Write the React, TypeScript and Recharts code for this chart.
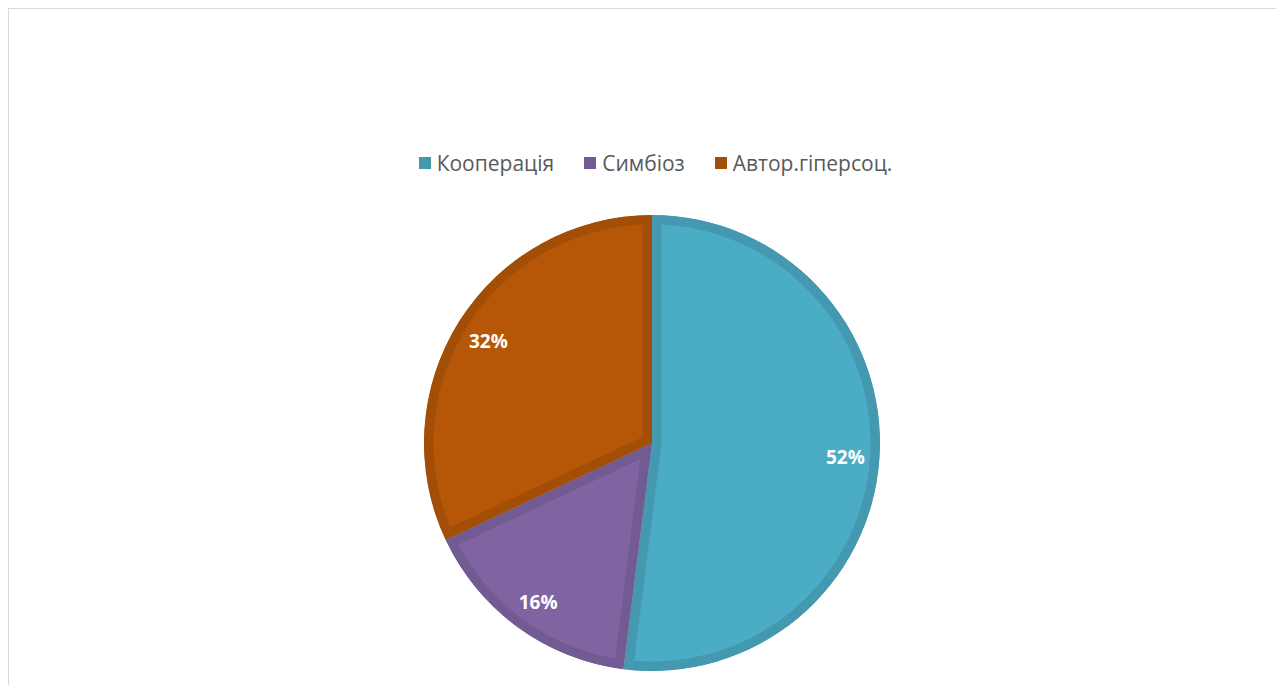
import { PieChart, Pie, Cell, Legend, Sector } from 'recharts';

// Розподіл типів взаємодії (частки, %)
const categories = ['Кооперація', 'Симбіоз', 'Автор.гіперсоц.'];
const shares = [52, 16, 32];

const fills = ['#4BACC6', '#8064A2', '#B65708'];
const borders = ['#4499B1', '#725A92', '#A34E07'];

const chartData = categories.map((name, i) => ({ name, value: shares[i] }));

const RADIAN = Math.PI / 180;

function renderSlice(props: any) {
  const id = `slice-clip-${props.index}`;
  return (
    <g>
      <defs>
        <clipPath id={id}>
          <Sector {...props} stroke="none" />
        </clipPath>
      </defs>
      <Sector
        {...props}
        fill={fills[props.index]}
        stroke={borders[props.index]}
        strokeWidth={19}
        clipPath={`url(#${id})`}
      />
    </g>
  );
}

function renderLabel({ cx, cy, midAngle, outerRadius, percent }: any) {
  const r = outerRadius * 0.85;
  const x = cx + r * Math.cos(-midAngle * RADIAN);
  const y = cy + r * Math.sin(-midAngle * RADIAN) + 2;
  return (
    <text
      x={x}
      y={y}
      fill="#FFFFFF"
      textAnchor="middle"
      dominantBaseline="central"
      fontFamily="'Open Sans', sans-serif"
      fontWeight={700}
      fontSize={19}
    >
      {`${Math.round(percent * 100)}%`}
    </text>
  );
}

function LegendContent() {
  return (
    <div
      style={{
        display: 'flex',
        justifyContent: 'center',
        alignItems: 'center',
        fontFamily: "'Open Sans', sans-serif",
        fontSize: 21,
        lineHeight: '24px',
        color: '#595959',
        gap: 30,
        paddingLeft: 18,
      }}
    >
      {categories.map((name, i) => (
        <div key={name} style={{ display: 'flex', alignItems: 'center' }}>
          <span
            style={{
              display: 'inline-block',
              width: 12,
              height: 12,
              background: borders[i],
              marginRight: 6,
            }}
          />
          <span>{name}</span>
        </div>
      ))}
    </div>
  );
}

export default function App() {
  return (
    <div
      style={{
        width: 1275,
        height: 676,
        borderTop: '1px solid #D9D9D9',
        borderLeft: '1px solid #D9D9D9',
        background: '#FFFFFF',
      }}
    >
      <PieChart width={1275} height={676} margin={{ top: 0, right: 0, bottom: 0, left: 0 }}>
        <Legend
          verticalAlign="top"
          content={<LegendContent />}
          wrapperStyle={{ top: 142, left: 0, width: 1275 }}
        />
        <Pie
          data={chartData}
          dataKey="value"
          nameKey="name"
          cx={643}
          cy={410}
          outerRadius={228}
          startAngle={90}
          endAngle={-270}
          shape={renderSlice}
          label={renderLabel}
          labelLine={false}
          isAnimationActive={false}
        >
          {chartData.map((d, i) => (
            <Cell key={d.name} fill={fills[i]} />
          ))}
        </Pie>
      </PieChart>
    </div>
  );
}
